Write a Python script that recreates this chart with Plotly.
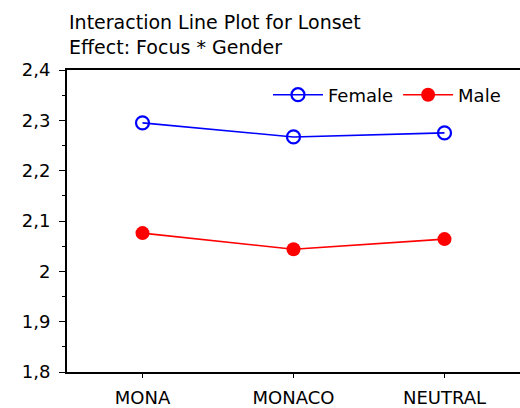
import plotly.graph_objects as go

categories = ["MONA", "MONACO", "NEUTRAL"]
female = [2.295, 2.267, 2.275]
male = [2.076, 2.044, 2.064]
ytick_vals = [1.8, 1.9, 2.0, 2.1, 2.2, 2.3, 2.4]
ytick_text = ["1,8", "1,9", "2", "2,1", "2,2", "2,3", "2,4"]
title_lines = ["Interaction Line Plot for Lonset", "Effect: Focus * Gender"]

xpos = list(range(len(categories)))
FONT = "DejaVu Sans, Arial, sans-serif"

fig = go.Figure()
fig.add_trace(go.Scatter(
    x=xpos, y=female, name="Female", mode="lines+markers",
    line=dict(color="#0000ff", width=1.6),
    marker=dict(symbol="circle-open", size=13, color="#0000ff", line=dict(width=2.2)),
))
fig.add_trace(go.Scatter(
    x=xpos, y=male, name="Male", mode="lines+markers",
    line=dict(color="#ff0000", width=1.6),
    marker=dict(symbol="circle", size=14, color="#ff0000"),
))

fig.update_layout(
    width=520, height=408,
    margin=dict(l=67, r=0, t=70, b=36),
    paper_bgcolor="white", plot_bgcolor="white",
    font=dict(family=FONT, size=18, color="black"),
    separators=",.",
    showlegend=True,
    legend=dict(orientation="h", x=(268-67)/453, xanchor="left", y=(372-95)/302, yanchor="middle",
                bgcolor="rgba(0,0,0,0)", font=dict(size=18), itemwidth=50),
    annotations=[
        dict(text=title_lines[0], xref="paper", yref="paper", x=0, y=(372-22)/302,
             xanchor="left", yanchor="middle", showarrow=False, font=dict(size=19)),
        dict(text=title_lines[1], xref="paper", yref="paper", x=0, y=(372-47)/302,
             xanchor="left", yanchor="middle", showarrow=False, font=dict(size=19)),
    ],
)
fig.update_xaxes(
    range=[-0.5, 2.5], tickvals=xpos, ticktext=categories,
    showline=True, linecolor="black", linewidth=2, mirror=True,
    ticks="outside", ticklen=4, tickcolor="black", showgrid=False, zeroline=False,
    ticklabelstandoff=4,
)
fig.update_yaxes(
    range=[1.8, 2.4], tickvals=ytick_vals, ticktext=ytick_text,
    showline=True, linecolor="black", linewidth=2,
    ticks="outside", ticklen=6, tickcolor="black", showgrid=False, zeroline=False,
    ticklabelstandoff=5,
    minor=dict(tickvals=[1.85, 1.95, 2.05, 2.15, 2.25, 2.35], ticks="outside", ticklen=3, tickcolor="black"),
)
fig.write_html("out.html", config={"displayModeBar": False},
               post_script="document.body.style.margin='0';")
